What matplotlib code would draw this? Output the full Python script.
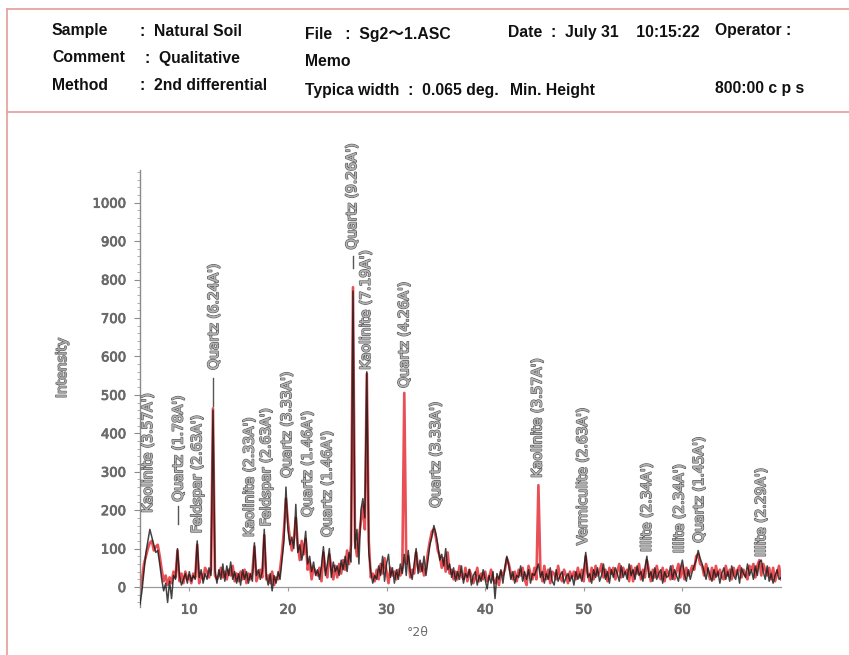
import numpy as np
import matplotlib
matplotlib.use("Agg")
import matplotlib.pyplot as plt
from matplotlib import font_manager
from matplotlib.lines import Line2D
from matplotlib.ticker import MultipleLocator
import matplotlib.patheffects as pe

# ---------------- data ----------------
# 2-theta sampling (degrees), 0.2 deg step from 5 to 70
two_theta = np.round(np.arange(5.0, 70.0001, 0.2), 1)

# scan 1 (black)
scan_black = [
    -45, -10, 40, 90, 120, 150, 130, 110, 90, 95,
    60, 20, -10, 10, -40, 15, -30, 30, 20, 100,
    30, 5, 20, 35, 10, 40, 15, 30, 20, 120,
    25, 45, 10, 35, 20, 50, 30, 460, 45, 10,
    45, 20, 60, 15, 55, 30, 65, 20, 40, 10,
    35, 5, 45, 20, 40, 10, 35, 15, 115, 30,
    45, 20, 40, 150, 30, 5, 35, -10, 30, 10,
    40, 20, 70, 120, 260, 150, 110, 130, 100, 215,
    90, 110, 70, 95, 145, 60, 80, 40, 65, 30,
    45, 20, 55, 105, 30, 60, 100, 25, 65, 40,
    55, 30, 70, 45, 80, 40, 90, 65, 770, 100,
    150, 60, 200, 230, 180, 560, 90, 40, 10, 30,
    20, 55, 30, 80, 15, 60, 85, 25, 50, 10,
    45, 20, 60, 35, 85, 30, 95, 40, 20, 60,
    100, 35, 70, 40, 80, 30, 70, 110, 130, 160,
    140, 110, 70, 85, 55, 100, 45, 60, 25, 50,
    15, 40, 20, 55, 10, 35, 25, 45, 5, 30,
    40, 5, 30, 15, 45, 20, -5, 30, 10, 40,
    -30, 35, 20, 45, 10, 50, 80, 55, 20, 40,
    10, 30, 25, 55, 15, 40, 20, 45, 10, 35,
    30, 45, 60, 25, 40, 10, 35, 20, 50, 15,
    5, 45, 15, 30, 40, 10, 25, 35, 15, 30,
    5, 40, 20, 35, 15, 45, 90, 25, 35, 10,
    45, 25, 50, 15, 30, 60, 20, 40, 10, 45,
    25, 50, 35, 15, 55, 25, 40, 20, 60, 30,
    45, 20, 55, 30, 40, 15, 50, 80, 25, 40,
    15, 50, 20, 35, 45, 10, 40, 25, 30, 55,
    20, 45, 30, 15, 50, 70, 35, 15, 45, 20,
    40, 55, 70, 95, 75, 60, 40, 20, 50, 30,
    15, 45, 25, 40, 10, 35, 50, 20, 40, 15,
    55, 30, 20, 45, 10, 50, 35, 25, 60, 30,
    45, 20, 55, 30, 65, 70, 40, 20, 55, 15,
    35, 10, 30, 45, 20, 25,
]

# scan 2 (red)
scan_red = [
    -20, 20, 60, 80, 100, 115, 120, 95, 105, 110,
    80, 45, 15, 30, 5, 25, 10, 40, 25, 95,
    15, 35, 10, 40, 20, 30, 10, 35, 25, 110,
    10, 35, 20, 50, 40, 25, 45, 465, 30, 20,
    30, 50, 25, 40, 20, 45, 30, 55, 15, 35,
    15, 40, 20, 45, 10, 35, 20, 40, 105, 15,
    30, 45, 25, 135, 20, 30, 10, 40, 5, 25,
    20, 45, 90, 150, 230, 170, 125, 95, 120, 180,
    110, 70, 120, 85, 125, 45, 65, 20, 50, 40,
    30, 50, 15, 90, 45, 25, 85, 50, 20, 55,
    25, 60, 35, 70, 45, 95, 60, 110, 780, 120,
    80, 130, 170, 210, 150, 555, 120, 25, 35, 15,
    45, 20, 60, 35, 75, 40, 10, 50, 30, 40,
    20, 45, 30, 50, 505, 60, 80, 25, 45, 35,
    90, 50, 40, 60, 30, 50, 90, 120, 145, 150,
    130, 95, 80, 50, 75, 40, 90, 35, 45, 20,
    40, 20, 55, 30, 20, 50, 15, 45, 30, 10,
    25, 50, 15, 35, 20, 40, 15, 25, 45, 20,
    10, 25, 5, 40, 30, 45, 75, 60, 35, 20,
    40, 15, 45, 30, 50, 20, 5, 55, 35, 20,
    50, 20, 265, 45, 15, 55, 20, 45, 10, 40,
    35, 20, 55, 25, 15, 45, 30, 10, 40, 25,
    40, 20, 50, 25, 45, 15, 80, 35, 15, 50,
    20, 55, 30, 40, 60, 25, 45, 15, 50, 35,
    50, 20, 40, 60, 25, 50, 35, 45, 15, 55,
    15, 50, 35, 60, 20, 45, 25, 70, 45, 15,
    45, 25, 55, 30, 20, 50, 15, 45, 35, 20,
    55, 20, 40, 60, 25, 55, 20, 50, 30, 40,
    55, 45, 80, 85, 60, 55, 30, 60, 40, 20,
    50, 20, 55, 30, 45, 25, 20, 55, 30, 45,
    20, 50, 30, 45, 55, 25, 45, 30, 20, 55,
    45, 60, 25, 55, 70, 30, 60, 45, 30, 50,
    20, 50, 15, 35, 55, 20,
]

# phase identification labels: text, 2-theta, lower end of label (intensity)
peak_names = [
    "Kaolinite (3.57A')", "Quartz (1.78A')", "Feldspar (2.63A')",
    "Quartz (6.24A')", "Kaolinite (2.33A')", "Feldspar (2.63A')",
    "Quartz (3.33A')", "Quartz (1.46A')", "Quartz (1.46A')",
    "Quartz (9.26A')", "Kaolinite (7.19A')", "Quartz (4.26A')",
    "Quartz (3.33A')", "Kaolinite (3.57A')", "Vermiculite (2.63A')",
    "Illite (2.34A')", "Illite (2.34A')", "Quartz (1.45A')",
    "Illite (2.29A')",
]
peak_pos = [5.8, 8.9, 10.8, 12.5, 16.1, 17.8, 19.9, 22.0, 24.0,
            26.5, 27.9, 31.8, 35.0, 45.3, 49.9, 56.4, 59.7, 61.7, 68.0]
label_base = [193, 222, 140, 565, 130, 158, 284, 182, 130,
              878, 565, 518, 206, 284, 109, 91, 88, 115, 78]

# short marker dashes below some labels: 2-theta, top, bottom (intensity)
marker_pos = [8.9, 12.4, 26.6]
marker_top = [212, 545, 862]
marker_bottom = [165, 470, 830]

y_ticks = [0, 100, 200, 300, 400, 500, 600, 700, 800, 900, 1000]
x_ticks = [10, 20, 30, 40, 50, 60]

# ---------------- fonts ----------------
def pick_family(name, fallback):
    try:
        font_manager.findfont(font_manager.FontProperties(family=name),
                              fallback_to_default=False)
        return name
    except Exception:
        return fallback

head_family = pick_family("Liberation Sans Narrow", "Liberation Sans")
head_size = 12.5 if head_family == "Liberation Sans Narrow" else 11.3

# ---------------- figure ----------------
W, H = 849, 655
fig = plt.figure(figsize=(W / 100, H / 100), dpi=100)
fig.patch.set_facecolor("white")

frame_col = "#e8a3a3"
fig.add_artist(Line2D([7 / W, 1.0], [1 - 9 / H, 1 - 9 / H], color=frame_col, lw=1.3))
fig.add_artist(Line2D([7 / W, 1.0], [1 - 112 / H, 1 - 112 / H], color=frame_col, lw=1.3))
fig.add_artist(Line2D([7 / W, 7 / W], [1 - 9 / H, 0.0], color=frame_col, lw=1.3))

head = dict(fontsize=head_size, fontweight="bold", color="#111111",
            family=[head_family, "Noto Sans CJK JP", "DejaVu Sans"], va="center", ha="left")
header_items = [
    (52, 31, "Sample"), (140, 31, ":  Natural Soil"),
    (52, 58, "Comment"), (145, 58, ":  Qualitative"),
    (52, 86, "Method"), (140, 86, ":  2nd differential"),
    (305, 34, "File   :  Sg2～1.ASC"),
    (305, 61, "Memo"),
    (305, 90, "Typica width  :  0.065 deg."),
    (508, 33, "Date  :  July 31    10:15:22"),
    (510, 90, "Min. Height"),
    (715, 30, "Operator :"),
    (715, 88, "800:00 c p s"),
]
for px, py, s in header_items:
    fig.text(px / W, 1 - py / H, s, **head)

# ---------------- axes ----------------
ax = fig.add_axes([140 / W, (H - 607) / H, 641 / W, 437 / H])
ax.set_xlim(5, 70)
ax.set_ylim(-52, 1085)

ax.plot(two_theta, scan_red, color="#e3242b", lw=1.9, alpha=0.8, zorder=2)
ax.plot(two_theta, scan_black, color="#151515", lw=1.1, alpha=0.8, zorder=3)

for xm, yt, yb in zip(marker_pos, marker_top, marker_bottom):
    ax.plot([xm, xm], [yb, yt], color="#555555", lw=1.0, zorder=4)

label_fx = [pe.withStroke(linewidth=1.2, foreground="#5e5e5e"), pe.Normal()]
for name, xp, yb in zip(peak_names, peak_pos, label_base):
    ax.text(xp, yb, name, rotation=90, ha="center", va="bottom",
            fontsize=10, color="#b4b4b4", path_effects=label_fx, zorder=5)

for side in ("top", "right"):
    ax.spines[side].set_visible(False)
ax.spines["left"].set_color("#8c8c8c")
ax.spines["left"].set_linewidth(1.0)
ax.spines["bottom"].set_position(("data", 0))
ax.spines["bottom"].set_color("#9a9a9a")
ax.spines["bottom"].set_linewidth(0.9)

ax.set_yticks(y_ticks)
ax.yaxis.set_minor_locator(MultipleLocator(20))
ax.set_xticks(x_ticks)
ax.tick_params(axis="y", which="major", length=4, width=0.8, color="#8c8c8c",
               labelsize=9.5, labelcolor="#6a6a6a", pad=6)
ax.tick_params(axis="y", which="minor", length=2, width=0.6, color="#a0a0a0")
ax.tick_params(axis="x", which="major", length=3, width=0.8, color="#9a9a9a",
               labelsize=9.5, labelcolor="#6a6a6a", pad=9)
for t in ax.get_xticklabels() + ax.get_yticklabels():
    t.set_path_effects([pe.withStroke(linewidth=0.6, foreground="#777777"), pe.Normal()])

fig.text(418 / W, 1 - 632 / H, "°2θ", ha="center", va="center",
         fontsize=9, color="#6a6a6a")
fig.text(62 / W, 1 - 368 / H, "Intensity", rotation=90, ha="center", va="center",
         fontsize=10, color="#a8a8a8",
         path_effects=[pe.withStroke(linewidth=1.1, foreground="#606060"), pe.Normal()])

fig.savefig("out.png", dpi=100, facecolor="white")
